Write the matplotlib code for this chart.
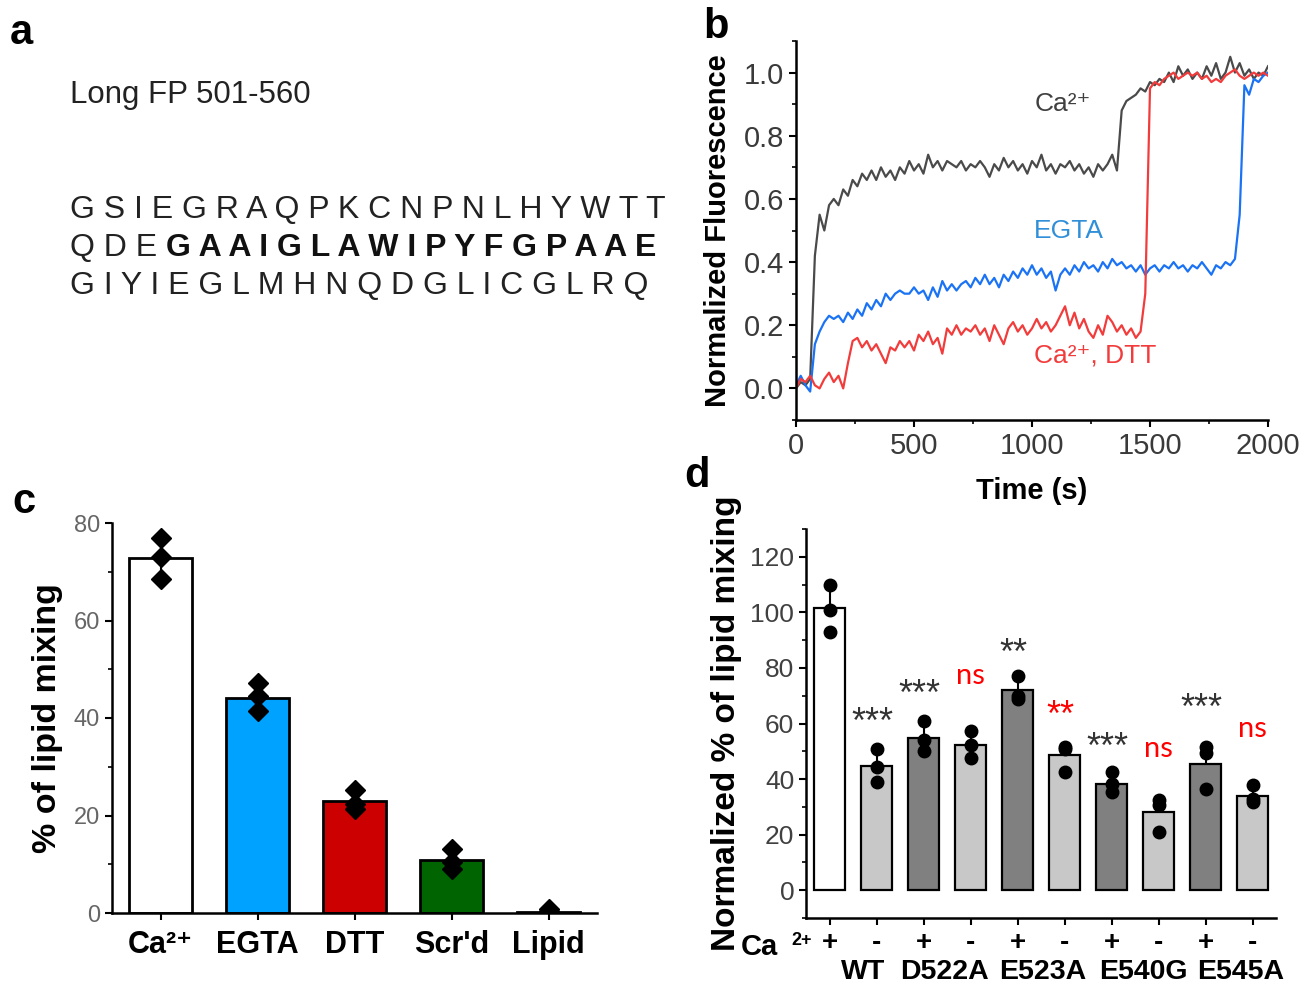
"""
Lipid mixing figure: peptide sequence, fluorescence traces, lipid mixing bars
"""

import matplotlib
matplotlib.use("Agg")
import matplotlib.pyplot as plt
import matplotlib.transforms as mtransforms
from matplotlib.ticker import MultipleLocator
import numpy as np

plt.rcParams['font.family'] = ['Liberation Sans', 'DejaVu Sans']

W, H = 1303, 989

# ---- panel a text
seq_title = "Long FP 501-560"
seq_line1 = "GSIEGRAQPKCNPNLHYWTT"
seq_line2_plain = "QDE"
seq_line2_bold = "GAAIGLAWIPYFGPAAE"
seq_line3 = "GIYIEGLMHNQDGLICGLRQ"

# ---- panel b: fluorescence traces, sampled every 20 s
time_s = np.arange(0, 2001, 20)
ca_trace = [
    0.00, 0.02, 0.01, 0.03, 0.42, 0.55, 0.50, 0.58, 0.60, 0.58,
    0.63, 0.61, 0.66, 0.64, 0.68, 0.66, 0.69, 0.66, 0.70, 0.67,
    0.69, 0.66, 0.70, 0.68, 0.72, 0.69, 0.71, 0.68, 0.74, 0.70,
    0.72, 0.69, 0.72, 0.71, 0.70, 0.72, 0.69, 0.71, 0.70, 0.72,
    0.70, 0.67, 0.71, 0.69, 0.73, 0.70, 0.72, 0.69, 0.71, 0.68,
    0.72, 0.70, 0.74, 0.69, 0.71, 0.68, 0.71, 0.70, 0.72, 0.69,
    0.71, 0.68, 0.70, 0.67, 0.71, 0.69, 0.71, 0.74, 0.69, 0.88,
    0.91, 0.92, 0.93, 0.95, 0.94, 0.97, 0.96, 0.98, 0.97, 1.00,
    0.97, 1.02, 0.99, 1.01, 0.98, 1.00, 0.98, 1.02, 0.99, 1.03,
    0.98, 1.00, 1.05, 1.00, 1.03, 0.99, 1.01, 0.98, 1.00, 0.99,
    1.02]
egta_trace = [
    0.01, 0.04, 0.01, -0.01, 0.14, 0.18, 0.21, 0.23, 0.22, 0.23,
    0.21, 0.24, 0.22, 0.25, 0.23, 0.27, 0.25, 0.28, 0.26, 0.30,
    0.28, 0.30, 0.31, 0.30, 0.30, 0.32, 0.30, 0.31, 0.28, 0.32,
    0.29, 0.34, 0.31, 0.33, 0.31, 0.33, 0.34, 0.32, 0.35, 0.33,
    0.36, 0.33, 0.35, 0.32, 0.36, 0.34, 0.37, 0.35, 0.38, 0.36,
    0.39, 0.36, 0.38, 0.35, 0.37, 0.31, 0.36, 0.38, 0.36, 0.39,
    0.37, 0.40, 0.38, 0.39, 0.37, 0.40, 0.38, 0.41, 0.39, 0.40,
    0.38, 0.39, 0.37, 0.39, 0.36, 0.38, 0.39, 0.37, 0.39, 0.38,
    0.40, 0.38, 0.39, 0.37, 0.39, 0.38, 0.40, 0.38, 0.36, 0.39,
    0.38, 0.40, 0.39, 0.41, 0.55, 0.96, 0.93, 0.98, 0.97, 0.99,
    1.00]
dtt_trace = [
    0.00, 0.03, 0.02, 0.04, 0.01, 0.00, 0.03, 0.05, 0.02, 0.04,
    0.00, 0.08, 0.15, 0.16, 0.13, 0.15, 0.12, 0.14, 0.11, 0.08,
    0.13, 0.12, 0.15, 0.13, 0.15, 0.12, 0.17, 0.15, 0.18, 0.14,
    0.16, 0.11, 0.19, 0.17, 0.20, 0.17, 0.19, 0.18, 0.20, 0.17,
    0.19, 0.15, 0.20, 0.17, 0.14, 0.19, 0.21, 0.18, 0.20, 0.17,
    0.19, 0.22, 0.19, 0.21, 0.18, 0.20, 0.23, 0.26, 0.20, 0.24,
    0.19, 0.22, 0.18, 0.16, 0.20, 0.17, 0.23, 0.21, 0.18, 0.20,
    0.17, 0.19, 0.16, 0.18, 0.30, 0.95, 0.97, 0.96, 0.98, 0.99,
    1.00, 0.98, 0.99, 1.00, 0.99, 1.00, 0.98, 0.99, 0.97, 0.98,
    0.97, 0.99, 1.00, 1.01, 0.99, 0.98, 0.99, 1.00, 0.99, 1.00,
    0.99]

# ---- panel c: lipid mixing
c_labels = ['Ca²⁺', 'EGTA', 'DTT', "Scr'd", 'Lipid']
c_means = [72.8, 44.2, 22.9, 10.8, 0.3]
c_err = [4.0, 3.0, 2.2, 2.4, 0.4]
c_points = [[76.9, 73.0, 68.5], [47.1, 44.5, 41.4], [25.3, 22.3, 21.3],
            [13.2, 10.4, 9.0], [0.8, 0.5, 0.2]]
c_colors = ['white', '#00a2ff', '#cc0000', '#006400', 'white']

# ---- panel d: normalized lipid mixing of mutants
d_ca = ['+', '-', '+', '-', '+', '-', '+', '-', '+', '-']
d_mutants = ['WT', 'D522A', 'E523A', 'E540G', 'E545A']
d_means = [101.5, 44.8, 54.7, 52.3, 71.9, 48.5, 38.4, 28.2, 45.3, 34.0]
d_err = [7.0, 5.0, 5.0, 4.5, 4.5, 3.0, 3.5, 3.5, 5.5, 3.0]
d_points = [[110, 101, 93], [51, 44.5, 39], [61, 54, 50], [57.4, 52.3, 47.5],
            [77, 70, 68.8], [51.7, 50.9, 42.7], [42.7, 38.4, 35.4],
            [32.4, 30.6, 21.1], [51.4, 49.3, 36.6], [38, 33, 31.8]]
d_sig = ['', '***', '***', 'ns', '**', '**', '***', 'ns', '***', 'ns']
d_sig_y = [0, 63, 73, 77, 88, 65.6, 54, 51, 68, 58]
d_sig_color = ['k', '#333333', '#333333', 'red', '#333333', 'red',
               '#333333', 'red', '#333333', 'red']


def rect(l, t, r, b):
    return [l / W, 1 - b / H, (r - l) / W, (b - t) / H]


def style_axes(ax, tick_color, tick_size):
    for side in ['top', 'right']:
        ax.spines[side].set_visible(False)
    for side in ['left', 'bottom']:
        ax.spines[side].set_linewidth(1.8)
    ax.tick_params(which='major', direction='out', length=5, width=1.5,
                   labelsize=tick_size, labelcolor=tick_color)
    ax.tick_params(which='minor', direction='out', length=3, width=1.2)


fig = plt.figure(figsize=(W / 100, H / 100), dpi=100)

# ---------------- panel letters
for letter, px, py in [('a', 10, 44), ('b', 703, 38), ('c', 12, 513), ('d', 684, 487)]:
    fig.text(px / W, 1 - py / H, letter, fontsize=30, fontweight='bold', va='baseline')

# ---------------- panel a
seq_fs = 23
fig.text(70 / W, 1 - 103 / H, seq_title, fontsize=22.5, color='#222222')
fig.text(70 / W, 1 - 218 / H, ' '.join(seq_line1), fontsize=seq_fs, color='#222222')
t_plain = fig.text(70 / W, 1 - 256 / H, ' '.join(seq_line2_plain), fontsize=seq_fs,
                   color='#222222')
fig.text(70 / W, 1 - 294 / H, ' '.join(seq_line3), fontsize=seq_fs, color='#222222')
fig.canvas.draw()
bb = t_plain.get_window_extent()
space_px = 0.278 * seq_fs * 100 / 72
fig.text((bb.x1 + space_px) / W, 1 - 256 / H, ' '.join(seq_line2_bold),
         fontsize=seq_fs, fontweight='bold', color='#111111')

# ---------------- panel b
axb = fig.add_axes(rect(796, 41, 1268, 420))
axb.plot(time_s, ca_trace, color='#4a4a4a', lw=1.6)
axb.plot(time_s, egta_trace, color='#1a73f5', lw=1.6)
axb.plot(time_s, dtt_trace, color='#f23c3c', lw=1.6)
axb.set_xlim(0, 2000)
axb.set_ylim(-0.1, 1.1)
axb.set_xticks([0, 500, 1000, 1500, 2000])
axb.set_yticks([0.0, 0.2, 0.4, 0.6, 0.8, 1.0])
axb.xaxis.set_minor_locator(MultipleLocator(250))
axb.yaxis.set_minor_locator(MultipleLocator(0.1))
style_axes(axb, '#3a3a3a', 21)
axb.set_xlabel('Time (s)', fontsize=21, fontweight='bold')
axb.set_ylabel('Normalized Fluorescence', fontsize=21, fontweight='bold')
axb.yaxis.set_label_coords(-0.136, 0.5)
axb.xaxis.set_label_coords(0.5, -0.15)
axb.text(1010, 0.90, 'Ca²⁺', fontsize=19, color='#404040', va='center')
axb.text(1010, 0.50, 'EGTA', fontsize=19, color='#2f8fd8', va='center')
axb.text(1010, 0.105, 'Ca²⁺, DTT', fontsize=19, color='#f23c3c', va='center')

# ---------------- panel c
axc = fig.add_axes(rect(112, 523, 597, 913))
xc = np.arange(len(c_labels))
axc.bar(xc, c_means, width=0.64, color=c_colors, edgecolor='black', linewidth=2, zorder=2)
axc.errorbar(xc, c_means, yerr=c_err, fmt='none', ecolor='black', elinewidth=1.5,
             capsize=0, zorder=3)
for i, pts in enumerate(c_points):
    axc.plot([xc[i]] * len(pts), pts, 'D', color='black', ms=10, zorder=4)
axc.set_xlim(-0.5, 4.5)
axc.set_ylim(0, 80)
axc.set_yticks([0, 20, 40, 60, 80])
axc.yaxis.set_minor_locator(MultipleLocator(10))
style_axes(axc, '#666666', 17)
axc.set_xticks(xc)
axc.set_xticklabels(c_labels, fontweight='bold')
axc.tick_params(axis='x', labelcolor='black', labelsize=22, pad=7)
axc.set_ylabel('% of lipid mixing', fontsize=24.5, fontweight='bold')
axc.yaxis.set_label_coords(-0.101, 0.5)

# ---------------- panel d
axd = fig.add_axes(rect(806, 529, 1276, 918))
xd = np.arange(len(d_means))
d_colors = ['white'] + ['#c8c8c8' if s == '-' else '#808080' for s in d_ca[1:]]
axd.bar(xd, d_means, width=0.65, color=d_colors, edgecolor='black', linewidth=1.6, zorder=2)
axd.errorbar(xd, d_means, yerr=[[0] * len(d_err), d_err], fmt='none', ecolor='black',
             elinewidth=1.5, capsize=0, zorder=3)
for i, pts in enumerate(d_points):
    axd.plot([xd[i]] * len(pts), pts, 'o', color='black', ms=9, zorder=4)
for i, s in enumerate(d_sig):
    if not s:
        continue
    if s == 'ns':
        axd.text(xd[i], d_sig_y[i], s, fontsize=21, color=d_sig_color[i],
                 ha='center', va='center', family='Lato')
    else:
        axd.text(xd[i] - 0.08, d_sig_y[i] - 3, s, fontsize=26, color=d_sig_color[i],
                 ha='center', va='center')
axd.set_xlim(-0.5, 9.5)
axd.set_ylim(-10, 130)
axd.set_yticks(np.arange(0, 121, 20))
axd.yaxis.set_minor_locator(MultipleLocator(10))
style_axes(axd, '#404040', 19)
axd.set_xticks(xd)
axd.set_xticklabels(d_ca, fontweight='bold')
axd.tick_params(axis='x', labelcolor='black', labelsize=20, pad=4)
axd.set_ylabel('Normalized % of lipid mixing', fontsize=24, fontweight='bold')
axd.yaxis.set_label_coords(-0.136, 0.5)
trans = mtransforms.blended_transform_factory(axd.transData, axd.transAxes)
for name, xpos in zip(d_mutants, [0.72, 2.44, 4.53, 6.67, 8.75]):
    axd.text(xpos, -0.14, name, transform=trans, fontsize=20.5, fontweight='bold',
             ha='center', va='center')
axd.text(-1.5, -0.075, 'Ca', transform=trans, fontsize=21, fontweight='bold',
         ha='center', va='center')
axd.text(-0.6, -0.058, '2+', transform=trans, fontsize=13, fontweight='bold',
         ha='center', va='center')

fig.savefig('out.png', dpi=100)
